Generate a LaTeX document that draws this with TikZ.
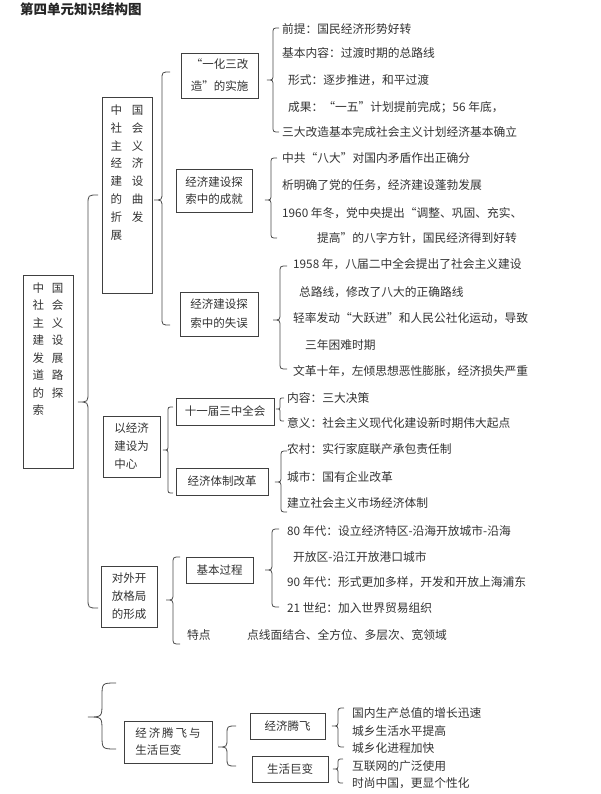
\documentclass[tikz,border=0pt]{standalone}
\usepackage{fontspec}
\newfontfamily\cjk{Noto Sans CJK SC}
\tikzset{
  box/.style={draw=black!75, line width=0.9pt, inner sep=0pt, text=black!80, font=\cjk\fontsize{11.5}{17}\selectfont},
  lsp/.style={font=\cjk\fontsize{11.5}{#1}\selectfont},
  vtxt/.style={inner sep=0pt, anchor=north, align=left, text=black!80, font=\cjk\fontsize{11.5}{#1}\selectfont},
  item/.style={anchor=west, inner sep=0pt, text=black!80, font=\cjk\fontsize{11.75}{14}\selectfont},
  brc/.style={draw=black!70, line width=0.8pt},
}
\newcommand\mybrace[5]{% x, top, tip, bottom, w
  \draw[brc] ({#1+#5},#2) .. controls (#1,#2) .. (#1,{#2+#5}) -- (#1,{#3-#5})
    .. controls (#1,#3) .. ({#1-#5},#3) .. controls (#1,#3) .. (#1,{#3+#5})
    -- (#1,{#4-#5}) .. controls (#1,#4) .. ({#1+#5},#4);}
\begin{document}
\begin{tikzpicture}[x=1pt,y=-1pt]
\useasboundingbox[fill=white] (0,0) rectangle (600,794);

% title
\node[anchor=west, inner sep=0pt, text=black!85, font=\cjk\bfseries\fontsize{13.5}{16}\selectfont] (title) at (20,9) {第四单元知识结构图};

% level 1
\node[box, minimum width=50pt, minimum height=193pt] (m) at (48,371.5) {};
\node[vtxt=17.5] (mt) at (48,282.4) {中\hspace{8pt}国\\社\hspace{8pt}会\\主\hspace{8pt}义\\建\hspace{8pt}设\\发\hspace{8pt}展\\道\hspace{8pt}路\\的\hspace{8pt}探\\索};

% level 2
\node[box, minimum width=50pt, minimum height=196pt] (a) at (127,195) {};
\node[vtxt=17.9] (at) at (127,104.4) {中\hspace{10pt}国\\社\hspace{10pt}会\\主\hspace{10pt}义\\经\hspace{10pt}济\\建\hspace{10pt}设\\的\hspace{10pt}曲\\折\hspace{10pt}发\\展};
\node[box, lsp=18, align=left, minimum width=57pt, minimum height=61pt] (b) at (131.5,446.5) {以经济\\建设为\\中心};
\node[box, lsp=18, align=left, minimum width=56pt, minimum height=61pt] (c) at (129,596.5) {对外开\\放格局\\的形成};

% level 3
\node[box, lsp=22, align=center, minimum width=77pt, minimum height=45pt] (a1) at (219.5,75.5) {“一化三改\\造”的实施};
\node[box, lsp=17, align=center, minimum width=76pt, minimum height=43pt] (a2) at (214,190.5) {经济建设探\\索中的成就};
\node[box, lsp=19, align=center, minimum width=78pt, minimum height=44pt] (a3) at (219,314) {经济建设探\\索中的失误};
\node[box, minimum width=98pt, minimum height=27pt] (b1) at (225,411.5) {十一届三中全会};
\node[box, minimum width=92pt, minimum height=27pt] (b2) at (222,481.5) {经济体制改革};
\node[box, minimum width=67pt, minimum height=26pt] (c1) at (219.5,570) {基本过程};
\node[item] (c2) at (187,635) {特点};

% braces
\mybrace{88}{195}{402}{608}{10}
\mybrace{162}{72}{200}{325}{8}
\mybrace{273}{28}{80}{132}{6}
\mybrace{271}{158}{200}{238}{6}
\mybrace{280}{266}{320}{369}{7}
\mybrace{168}{407}{450}{493}{5}
\mybrace{280}{398}{409}{421}{4}
\mybrace{281}{451}{482}{512}{6}
\mybrace{173}{557}{600}{644}{7}
\mybrace{272}{529}{570}{607}{7}

% items A1
\node[item] (i11) at (282,29) {前提：国民经济形势好转};
\node[item] (i12) at (282,53) {基本内容：过渡时期的总路线};
\node[item] (i13) at (288,80) {形式：逐步推进，和平过渡};
\node[item] (i14) at (288,107) {成果：“一五”计划提前完成；56 年底，};
\node[item] (i15) at (282,132) {三大改造基本完成社会主义计划经济基本确立};
% items A2
\node[item] (i21) at (282,158) {中共“八大”对国内矛盾作出正确分};
\node[item] (i22) at (282,185) {析明确了党的任务，经济建设蓬勃发展};
\node[item] (i23) at (282,213) {1960 年冬，党中央提出“调整、巩固、充实、};
\node[item] (i24) at (317,238) {提高”的八字方针，国民经济得到好转};
% items A3
\node[item] (i31) at (293,264) {1958 年，八届二中全会提出了社会主义建设};
\node[item] (i32) at (299,292) {总路线，修改了八大的正确路线};
\node[item] (i33) at (293,318) {轻率发动“大跃进”和人民公社化运动，导致};
\node[item] (i34) at (305,345) {三年困难时期};
\node[item] (i35) at (293,371) {文革十年，左倾思想恶性膨胀，经济损失严重};
% items B1, B2
\node[item] (j11) at (287,398) {内容：三大决策};
\node[item] (j12) at (287,423) {意义：社会主义现代化建设新时期伟大起点};
\node[item] (j21) at (287,449) {农村：实行家庭联产承包责任制};
\node[item] (j22) at (287,477) {城市：国有企业改革};
\node[item] (j23) at (287,503) {建立社会主义市场经济体制};
% items C
\node[item] (k11) at (287,531) {80 年代：设立经济特区-沿海开放城市-沿海};
\node[item] (k12) at (293,557) {开放区-沿江开放港口城市};
\node[item] (k13) at (287,582) {90 年代：形式更加多样，开发和开放上海浦东};
\node[item] (k14) at (287,608) {21 世纪：加入世界贸易组织};
\node[item] (k2) at (247,635) {点线面结合、全方位、多层次、宽领域};

% bottom section
\mybrace{102}{683}{717}{749}{14}
\node[box, lsp=17, align=left, minimum width=88pt, minimum height=42pt] (d) at (168,742) {经\,济\,腾\,飞\,与\\生活巨变};
\mybrace{227}{726}{747}{766}{9}
\node[box, minimum width=75pt, minimum height=26pt] (d1) at (287.5,726) {经济腾飞};
\node[box, minimum width=76pt, minimum height=26pt] (d2) at (290,769) {生活巨变};
\mybrace{338}{708}{726}{747}{6}
\mybrace{338}{759}{769}{783}{5}
\node[item] (l11) at (352,713) {国内生产总值的增长迅速};
\node[item] (l12) at (352,731) {城乡生活水平提高};
\node[item] (l13) at (352,748) {城乡化进程加快};
\node[item] (l21) at (352,766) {互联网的广泛使用};
\node[item] (l22) at (352,783) {时尚中国，更显个性化};
\end{tikzpicture}
\end{document}
